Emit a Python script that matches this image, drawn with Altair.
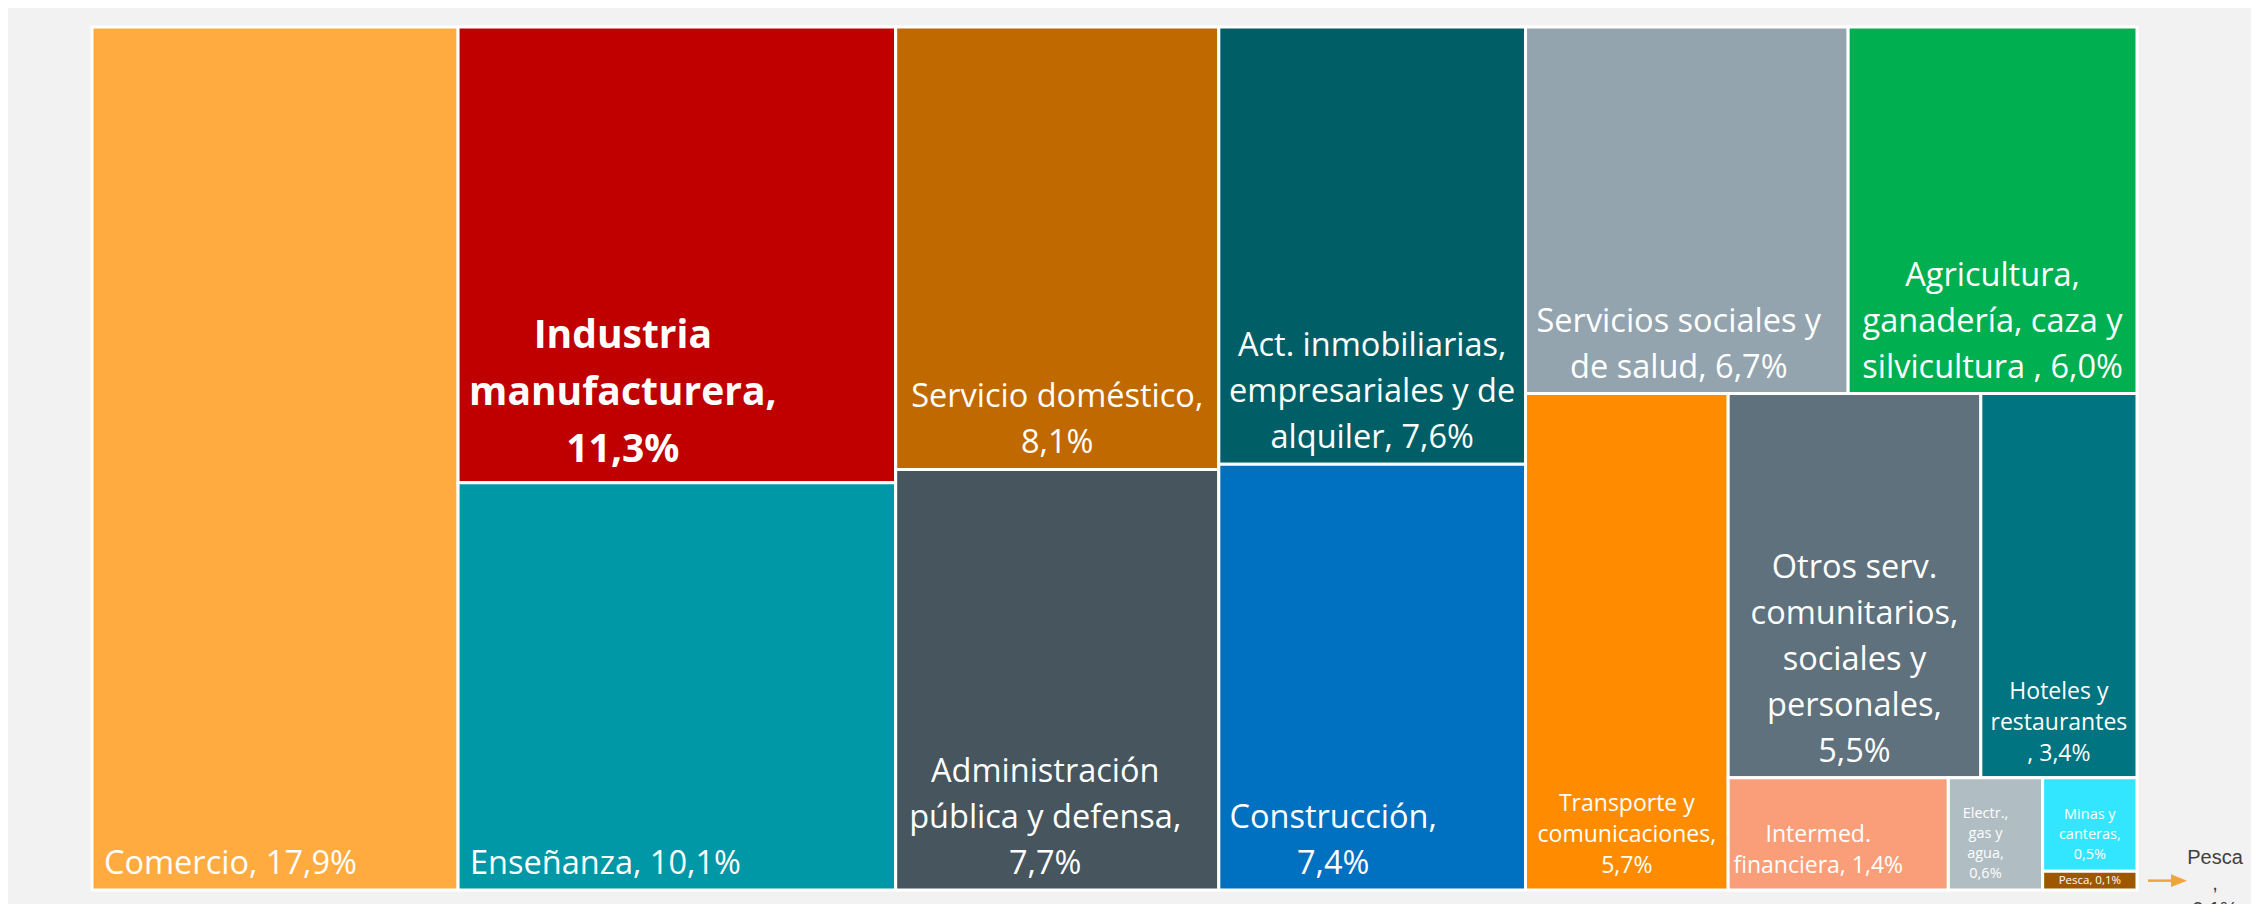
import altair as alt
import pandas as pd

# ---------------- data ----------------
categories = [
    "Comercio", "Industria manufacturera", "Enseñanza", "Servicio doméstico",
    "Administración pública y defensa", "Act. inmobiliarias, empresariales y de alquiler",
    "Construcción", "Servicios sociales y de salud",
    "Agricultura, ganadería, caza y silvicultura", "Transporte y comunicaciones",
    "Otros serv. comunitarios, sociales y personales", "Hoteles y restaurantes",
    "Intermed. financiera", "Electr., gas y agua", "Minas y canteras", "Pesca",
]
shares = [17.9, 11.3, 10.1, 8.1, 7.7, 7.6, 7.4, 6.7, 6.0, 5.7, 5.5, 3.4, 1.4, 0.6, 0.5, 0.1]
labels = [
    "Comercio, 17,9%",
    "Industria\nmanufacturera,\n11,3%",
    "Enseñanza, 10,1%",
    "Servicio doméstico,\n8,1%",
    "Administración\npública y defensa,\n7,7%",
    "Act. inmobiliarias,\nempresariales y de\nalquiler, 7,6%",
    "Construcción,\n7,4%",
    "Servicios sociales y\nde salud, 6,7%",
    "Agricultura,\nganadería, caza y\nsilvicultura , 6,0%",
    "Transporte y\ncomunicaciones,\n5,7%",
    "Otros serv.\ncomunitarios,\nsociales y\npersonales,\n5,5%",
    "Hoteles y\nrestaurantes\n, 3,4%",
    "Intermed.\nfinanciera, 1,4%",
    "Electr.,\ngas y\nagua,\n0,6%",
    "Minas y\ncanteras,\n0,5%",
    "Pesca, 0,1%",
]
colors = ["#FFAB40", "#C00000", "#0097A7", "#BF6900", "#46555E", "#005F66",
          "#0070C0", "#94A4AE", "#00B050", "#FF8C00", "#5E717C", "#007480",
          "#F99E78", "#B0BDC3", "#33E6FF", "#9E5700"]
callout_label = "Pesca\n,\n0,1%"

# treemap nesting (structure only): "h" = side by side, "v" = stacked
layout_tree = ("h", [0, ("v", [1, 2]), ("v", [3, 4]), ("v", [5, 6]),
                     ("v", [("h", [7, 8]),
                            ("h", [9, ("v", [("h", [10, 11]),
                                             ("h", [12, 13, ("v", [14, 15])])])])])])

# ---------------- styles ----------------
W, H = 2045, 863
FONT = "Open Sans"
GROUPS = {  # font size, line height, alignment, baseline, dy, weight
    "big_left": dict(size=32.5, lh=46, align="left", baseline="bottom", dy=-9, weight="normal"),
    "big": dict(size=32.5, lh=46, align="center", baseline="bottom", dy=-9, weight="normal"),
    "bold": dict(size=39, lh=57, align="center", baseline="bottom", dy=-13, weight="bold"),
    "mid": dict(size=23, lh=31, align="center", baseline="bottom", dy=-12, weight="normal"),
    "small": dict(size=14.5, lh=20, align="center", baseline="bottom", dy=-9, weight="normal"),
    "tiny": dict(size=11.5, lh=14, align="center", baseline="middle", dy=0, weight="normal"),
}
label_group = ["big_left", "bold", "big_left", "big", "big", "big", "big", "big", "big",
               "mid", "big", "mid", "mid", "small", "small", "tiny"]
label_nudge = [12, -54, 12, 0, -12, 0, -39, -8, 0, 0, 0, 0, -20, -10, 0, 0]


def total(node):
    if isinstance(node, int):
        return shares[node]
    return sum(total(k) for k in node[1])


def place(node, x0, x1, y0, y1, out):
    if isinstance(node, int):
        out[node] = (x0, x1, y0, y1)
        return
    d, kids = node
    t = total(node)
    pos = x0 if d == "h" else y0
    for k in kids:
        f = total(k) / t
        if d == "h":
            nx = pos + (x1 - x0) * f
            place(k, pos, nx, y0, y1, out)
            pos = nx
        else:
            ny = pos + (y1 - y0) * f
            place(k, x0, x1, pos, ny, out)
            pos = ny


rects = {}
place(layout_tree, 0.0, 1.0, 0.0, 1.0, rects)

rows = []
for i, c in enumerate(categories):
    x0, x1, y0, y1 = rects[i]
    g = label_group[i]
    st = GROUPS[g]
    n_lines = labels[i].count("\n") + 1
    if g == "big_left":
        lx = x0 + label_nudge[i] / W
    else:
        lx = (x0 + x1) / 2 + label_nudge[i] / W
    if g == "tiny":
        ly = (y0 + y1) / 2
    else:
        # anchor the last line at the tile's bottom: first line sits (n-1) lines higher
        ly = y1 - (n_lines - 1) * st["lh"] / H
    rows.append(dict(cat=c, share=shares[i], label=labels[i], x0=x0, x1=x1, y0=y0, y1=y1,
                     lx=lx, ly=ly, grp=g))
df = pd.DataFrame(rows)

# callout for the smallest tile
p = rects[categories.index("Pesca")]
pc_y = (p[2] + p[3]) / 2
ann = pd.DataFrame([dict(ax0=p[1] + 11 / W, ax1=p[1] + 36 / W, hx=p[1] + 42 / W,
                         tx=p[1] + 78 / W, y=pc_y, label=callout_label)])

xs = alt.Scale(domain=[0, 1], nice=False, zero=False)
ys = alt.Scale(domain=[0, 1], nice=False, zero=False, reverse=True)

base = alt.Chart(df)

tiles = base.mark_rect(stroke="white", strokeWidth=3).encode(
    x=alt.X("x0:Q", scale=xs, axis=None),
    x2="x1:Q",
    y=alt.Y("y0:Q", scale=ys, axis=None),
    y2="y1:Q",
    color=alt.Color("cat:N", scale=alt.Scale(domain=categories, range=colors), legend=None),
    tooltip=["cat:N", "share:Q"],
)


def text_layer(group):
    st = GROUPS[group]
    return base.transform_filter(alt.datum.grp == group).mark_text(
        font=FONT, fontSize=st["size"], lineHeight=st["lh"], align=st["align"],
        baseline=st["baseline"], dy=st["dy"], fontWeight=st["weight"], color="white",
        lineBreak="\n",
    ).encode(
        x=alt.X("lx:Q", scale=xs, axis=None),
        y=alt.Y("ly:Q", scale=ys, axis=None),
        text="label:N",
    )


text_layers = [text_layer(g) for g in GROUPS]

arrow_line = alt.Chart(ann).mark_rule(color="#F4A23C", strokeWidth=2.5).encode(
    x=alt.X("ax0:Q", scale=xs, axis=None), x2="ax1:Q",
    y=alt.Y("y:Q", scale=ys, axis=None),
)
arrow_head = alt.Chart(ann).mark_point(
    shape="M -1 -0.8 L 1 0 L -1 0.8 Z", filled=True, opacity=1, color="#F4A23C", size=256,
).encode(
    x=alt.X("hx:Q", scale=xs, axis=None),
    y=alt.Y("y:Q", scale=ys, axis=None),
)
callout = alt.Chart(ann).mark_text(
    font="Liberation Sans", fontSize=20, lineHeight=26, align="center", baseline="top",
    dy=-33, color="#404040", lineBreak="\n",
).encode(
    x=alt.X("tx:Q", scale=xs, axis=None),
    y=alt.Y("y:Q", scale=ys, axis=None),
    text="label:N",
)

chart = alt.layer(
    tiles, *text_layers, arrow_line, arrow_head, callout
).properties(
    width=W, height=H,
    autosize=alt.AutoSizeParams(type="none"),
    padding={"left": 84, "top": 19, "right": 114, "bottom": 14},
    background="#F2F2F2",
).configure_view(strokeWidth=0)

chart.save("out.html", embed_options={"renderer": "svg", "actions": False})
